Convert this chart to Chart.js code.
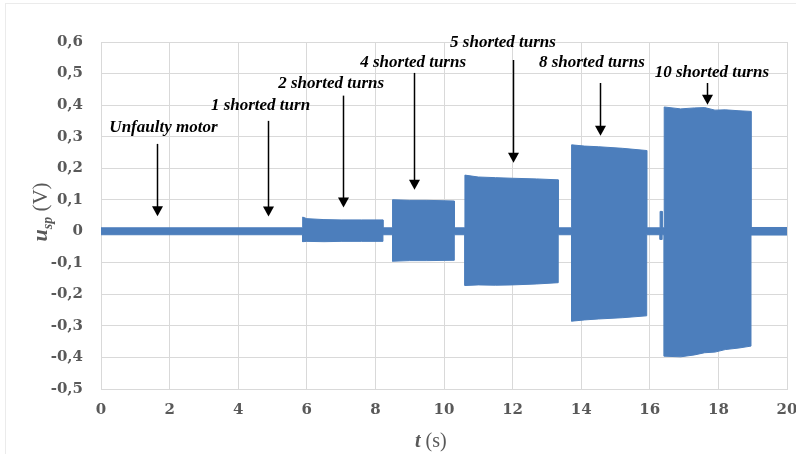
<!DOCTYPE html>
<html>
<head>
<meta charset="utf-8">
<script src="https://cdn.jsdelivr.net/npm/chart.js@4"></script>
<style>
  html, body { margin: 0; padding: 0; background: #fff; }
  #wrap { width: 796px; height: 454px; }
</style>
</head>
<body>
<div id="wrap"><canvas id="myChart" width="796" height="454"></canvas></div>
<script>
const time  = [0, 5.88, 5.88, 6.0, 6.5, 7.0, 7.6, 8.22, 8.22, 8.5, 8.5, 9.0, 9.5, 10.3, 10.3, 10.61, 10.61, 11.0, 11.5, 12.0, 12.7, 13.33, 13.33, 13.72, 13.72, 14.1, 14.5, 15.2, 15.91, 15.91, 16.3, 16.3, 16.36, 16.36, 16.42, 16.42, 16.9, 17.3, 17.6, 17.9, 18.2, 18.6, 18.95, 18.95, 20]
const upper = [0.011, 0.011, 0.045, 0.040, 0.037, 0.036, 0.036, 0.036, 0.011, 0.011, 0.100, 0.098, 0.098, 0.096, 0.011, 0.011, 0.178, 0.172, 0.170, 0.168, 0.166, 0.163, 0.011, 0.011, 0.274, 0.270, 0.268, 0.263, 0.256, 0.011, 0.011, 0.063, 0.063, 0.011, 0.011, 0.394, 0.388, 0.391, 0.392, 0.384, 0.385, 0.382, 0.380, 0.012, 0.012]
const lower = [-0.011, -0.011, -0.033, -0.032, -0.033, -0.032, -0.032, -0.032, -0.011, -0.011, -0.095, -0.093, -0.093, -0.092, -0.011, -0.011, -0.172, -0.170, -0.171, -0.170, -0.167, -0.163, -0.011, -0.011, -0.285, -0.281, -0.278, -0.274, -0.268, -0.011, -0.011, -0.026, -0.026, -0.011, -0.011, -0.396, -0.398, -0.392, -0.385, -0.383, -0.375, -0.370, -0.364, -0.012, -0.012]

// annotations: label, text centre (t), text baseline (V), arrow t, arrow start (V), arrow tip (V)
const noteLabels = ['Unfaulty motor', '1 shorted turn', '2 shorted turns', '4 shorted turns', '5 shorted turns', '8 shorted turns', '10 shorted turns']
const noteTextX  = [1.82, 4.65, 6.71, 9.10, 11.72, 14.31, 17.81]
const noteTextY  = [0.315, 0.385, 0.455, 0.521, 0.584, 0.521, 0.489]
const arrowX     = [1.63, 4.87, 7.06, 9.13, 12.01, 14.55, 17.67]
const arrowFrom  = [0.277, 0.350, 0.430, 0.502, 0.543, 0.470, 0.470]
const arrowTo    = [0.048, 0.047, 0.075, 0.132, 0.217, 0.303, 0.401]

const blue = 'rgb(76, 126, 188)'
const gridColor = '#d9d9d9'
const tickFont = { family: 'DejaVu Serif', weight: 'bold', size: 15 }

const toPoints = ys => time.map((t, i) => ({ x: t, y: ys[i] }))

const annotate = {
    id: 'annotate',
    afterDatasetsDraw(chart) {
        const ctx = chart.ctx
        const xs = chart.scales.x, ys = chart.scales.y
        ctx.save()
        // arrows
        ctx.strokeStyle = '#000'
        ctx.fillStyle = '#000'
        ctx.lineWidth = 1.5
        arrowX.forEach((t, i) => {
            const px = Math.round(xs.getPixelForValue(t)) + 0.5
            const y0 = ys.getPixelForValue(arrowFrom[i])
            const y1 = ys.getPixelForValue(arrowTo[i])
            ctx.beginPath()
            ctx.moveTo(px, y0)
            ctx.lineTo(px, y1 - 9)
            ctx.stroke()
            ctx.beginPath()
            ctx.moveTo(px - 5.5, y1 - 10)
            ctx.lineTo(px + 5.5, y1 - 10)
            ctx.lineTo(px, y1)
            ctx.closePath()
            ctx.fill()
        })
        // labels
        ctx.font = 'italic bold 17px "Liberation Serif"'
        ctx.textAlign = 'center'
        ctx.textBaseline = 'alphabetic'
        noteLabels.forEach((label, i) => {
            ctx.fillText(label, xs.getPixelForValue(noteTextX[i]), ys.getPixelForValue(noteTextY[i]))
        })

        // x axis title: t (s)
        ctx.fillStyle = '#595959'
        ctx.textAlign = 'left'
        const tx = (xs.left + xs.right) / 2 - 29
        ctx.font = 'italic bold 20px "Liberation Serif"'
        ctx.fillText('t', tx, 447)
        const tw = ctx.measureText('t').width
        ctx.font = '20px "Liberation Serif"'
        ctx.fillText(' (s)', tx + tw, 447)

        // y axis title: u_sp (V)
        ctx.translate(47, 212)
        ctx.rotate(-Math.PI / 2)
        const parts = [
            { s: 'u', f: 'italic bold 22px "Liberation Serif"', dy: 0 },
            { s: 'sp', f: 'italic bold 14px "Liberation Serif"', dy: 5 },
            { s: ' (V)', f: '21px "Liberation Serif"', dy: 0 }
        ]
        let total = 0
        parts.forEach(p => { ctx.font = p.f; p.w = ctx.measureText(p.s).width; total += p.w })
        let cx = -total / 2
        parts.forEach(p => {
            ctx.font = p.f
            ctx.fillText(p.s, cx, p.dy)
            cx += p.w
        })
        ctx.restore()
    },
    beforeDraw(chart) {
        const ctx = chart.ctx
        ctx.save()
        ctx.fillStyle = '#fff'
        ctx.fillRect(0, 0, chart.width, chart.height)
        ctx.strokeStyle = '#ebebeb'
        ctx.lineWidth = 1
        ctx.strokeRect(5.5, 3.5, chart.width - 4, chart.height)
        ctx.restore()
    }
}

const ctx = document.getElementById('myChart').getContext('2d')
const chart = new Chart(ctx, {
    type: 'line',
    data: {
        datasets: [
            {
                label: 'upper',
                data: toPoints(upper),
                borderColor: blue,
                borderWidth: 1,
                pointRadius: 0,
                fill: false
            },
            {
                label: 'lower',
                data: toPoints(lower),
                borderColor: blue,
                backgroundColor: blue,
                borderWidth: 1,
                pointRadius: 0,
                fill: '-1'
            }
        ]
    },
    options: {
        responsive: false,
        animation: false,
        layout: { padding: { top: 42, right: 9, left: 0, bottom: 0 } },
        plugins: {
            legend: { display: false },
            tooltip: { enabled: false }
        },
        scales: {
            x: {
                type: 'linear',
                min: 0,
                max: 20,
                afterFit: scale => {
                    scale.height = 65
                    scale.paddingLeft = 0
                    scale.paddingRight = 0
                },
                ticks: { stepSize: 2, padding: 12, color: '#595959', font: tickFont, maxRotation: 0 },
                grid: { color: gridColor, drawTicks: false },
                border: { color: gridColor }
            },
            y: {
                min: -0.5,
                max: 0.6,
                afterFit: scale => {
                    scale.width = 101
                    scale.paddingTop = 0
                    scale.paddingBottom = 0
                },
                ticks: {
                    stepSize: 0.1,
                    padding: 18,
                    color: '#595959',
                    font: tickFont,
                    callback: v => {
                        const r = Math.round(v * 10) / 10
                        return r === 0 ? '0' : r.toFixed(1).replace('.', ',')
                    }
                },
                grid: { color: gridColor, drawTicks: false },
                border: { color: gridColor }
            }
        }
    },
    plugins: [annotate]
})
</script>
</body>
</html>
